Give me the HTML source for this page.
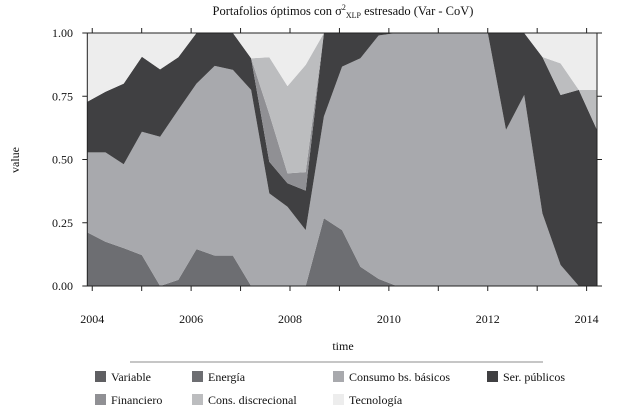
<!DOCTYPE html>
<html><head><meta charset="utf-8"><style>
body{margin:0;background:#fff;width:638px;height:413px;overflow:hidden;font-family:"Liberation Serif",serif;}
svg text{font-family:"Liberation Serif",serif;fill:#111;}
</style></head><body>
<svg id="chart" width="638" height="413" viewBox="0 0 638 413" xmlns="http://www.w3.org/2000/svg">
<text x="343" y="15" text-anchor="middle" font-size="12.5">Portafolios óptimos con σ<tspan font-size="8" dy="-5">2</tspan><tspan font-size="8" dy="8">XLP</tspan><tspan dy="-3"> estresado (Var - CoV)</tspan></text>
<g id="areas"></g>
<rect x="87.3" y="33" width="509.7" height="253" fill="none" stroke="#222" stroke-width="1"/>
<g id="axes"></g>
<text x="343" y="350" text-anchor="middle" font-size="12">time</text>
<text transform="translate(19,160) rotate(-90)" text-anchor="middle" font-size="12">value</text>
<line x1="130" y1="362" x2="543" y2="362" stroke="#666" stroke-width="0.8"/>
<g id="legend"></g>
</svg>
<script>
const seriesNames=["Variable","Energía","Consumo bs. básicos","Ser. públicos","Financiero","Cons. discrecional","Tecnología"];
const seriesColors=["#5f5f62","#6d6e72","#a8a9ad","#404042","#909094","#bcbdbf","#ededed"];
const variable=[0,0,0,0,0,0,0,0,0,0,0,0,0,0,0,0,0,0,0,0,0,0,0,0,0,0,0,0,0];
// cumulative tops
const energiaTop=[0.212,0.175,0.15,0.122,0,0.024,0.146,0.12,0.12,0,0,0,0,0.268,0.221,0.076,0.028,0,0,0,0,0,0,0,0,0,0,0,0];
const consumoTop=[0.528,0.528,0.481,0.61,0.59,0.696,0.8,0.87,0.854,0.775,0.366,0.313,0.221,0.67,0.867,0.9,0.99,1,1,1,1,1,1,0.617,0.755,0.287,0.083,0,0];
const serTop=[0.728,0.768,0.8,0.906,0.856,0.904,1,1,1,0.9,0.491,0.406,0.377,1,1,1,1,1,1,1,1,1,1,1,1,0.905,0.755,0.775,0.617];
const finTop=[0.728,0.768,0.8,0.906,0.856,0.904,1,1,1,0.9,0.68,0.445,0.45,1,1,1,1,1,1,1,1,1,1,1,1,0.905,0.755,0.775,0.617];
const discTop=[0.728,0.768,0.8,0.906,0.856,0.904,1,1,1,0.9,0.904,0.79,0.874,1,1,1,1,1,1,1,1,1,1,1,1,0.905,0.88,0.775,0.775];
const techTop=[1,1,1,1,1,1,1,1,1,1,1,1,1,1,1,1,1,1,1,1,1,1,1,1,1,1,1,1,1];
const tStart=2003.9, tEnd=2014.21;
const xTicks=[2004,2006,2008,2010,2012,2014];
const yTicks=[0,0.25,0.5,0.75,1];
const X0=87.3,X1=597,Y0=286,Y1=33;
const xs=t=>X0+(t-tStart)/(tEnd-tStart)*(X1-X0);
const ys=v=>Y0-v*(Y0-Y1);
const n=techTop.length;
const times=techTop.map((_,i)=>tStart+i*(tEnd-tStart)/(n-1));
const NS="http://www.w3.org/2000/svg";
const layers=[variable,energiaTop,consumoTop,serTop,finTop,discTop,techTop];
const areas=document.getElementById('areas');
let prev=times.map(()=>0);
layers.forEach((top,k)=>{
  const t2=k===0?top:top.map((v,i)=>Math.max(v,prev[i]));
  let d="M"+times.map((t,i)=>xs(t).toFixed(1)+","+ys(t2[i]).toFixed(1)).join("L");
  for(let i=n-1;i>=0;i--) d+="L"+xs(times[i]).toFixed(1)+","+ys(prev[i]).toFixed(1);
  const p=document.createElementNS(NS,'path');
  p.setAttribute('d',d+"Z");p.setAttribute('fill',seriesColors[k]);
  
  
  areas.appendChild(p);prev=t2;
});
const axes=document.getElementById('axes');
function ln(x1,y1,x2,y2){const l=document.createElementNS(NS,'line');l.setAttribute('x1',x1);l.setAttribute('y1',y1);l.setAttribute('x2',x2);l.setAttribute('y2',y2);l.setAttribute('stroke','#222');


axes.appendChild(l);}
function tx(x,y,s,a){const e=document.createElementNS(NS,'text');e.setAttribute('x',x);e.setAttribute('y',y);e.setAttribute('text-anchor',a);e.setAttribute('font-size','12');e.textContent=s;


axes.appendChild(e);}
for(let yr=2004;yr<=2014;yr++){const x=xs(yr);ln(x,Y0,x,Y0+5);ln(x,Y1,x,Y1-5);}
xTicks.forEach(t=>tx(xs(t),323,String(t),'middle'));
yTicks.forEach(v=>{const y=ys(v);ln(X0,y,X0-5,y);ln(X1,y,X1+5,y);tx(73,y+4,v.toFixed(2),'end');});
const legend=document.getElementById('legend');
const legPos=[[95,377],[192,377],[333,377],[487,377],[95,400],[192,400],[333,400]];
seriesNames.forEach((nm,k)=>{
  const g=document.createElementNS(NS,'g');
  
  
  const r=document.createElementNS(NS,'rect');
  r.setAttribute('x',legPos[k][0]);r.setAttribute('y',legPos[k][1]-6);r.setAttribute('width',11);r.setAttribute('height',11);r.setAttribute('fill',seriesColors[k]);
  const t=document.createElementNS(NS,'text');
  t.setAttribute('x',legPos[k][0]+16);t.setAttribute('y',legPos[k][1]+4);t.setAttribute('font-size','12');t.textContent=nm;
  g.appendChild(r);g.appendChild(t);legend.appendChild(g);
});
</script>
</body></html>
